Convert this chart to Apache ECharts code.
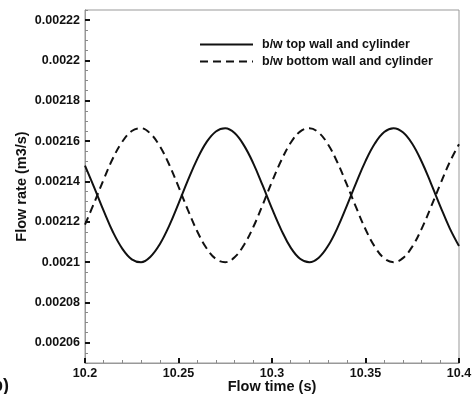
<!DOCTYPE html>
<html>
<head>
<meta charset="utf-8">
<script src="https://cdn.jsdelivr.net/npm/echarts@6/dist/echarts.min.js"></script>
<style>
  html, body { margin: 0; padding: 0; background: #fff; }
  #chart { width: 473px; height: 394px; }
</style>
</head>
<body>
<div id="chart"></div>
<script>
// Flow time samples (s)
const flowTime = [
  10.200, 10.205, 10.210, 10.215, 10.220, 10.225, 10.230, 10.235, 10.240, 10.245,
  10.250, 10.255, 10.260, 10.265, 10.270, 10.275, 10.280, 10.285, 10.290, 10.295,
  10.300, 10.305, 10.310, 10.315, 10.320, 10.325, 10.330, 10.335, 10.340, 10.345,
  10.350, 10.355, 10.360, 10.365, 10.370, 10.375, 10.380, 10.385, 10.390, 10.395,
  10.400
];

// Flow rate between top wall and cylinder (m3/s)
const topWall = [
  0.0021478, 0.0021368, 0.0021254, 0.0021148, 0.0021066, 0.0021014, 0.0021000, 0.0021027, 0.0021089, 0.0021180,
  0.0021290, 0.0021405, 0.0021511, 0.0021595, 0.0021648, 0.0021664, 0.0021640, 0.0021579, 0.0021490, 0.0021380,
  0.0021265, 0.0021159, 0.0021072, 0.0021017, 0.0021000, 0.0021022, 0.0021081, 0.0021170, 0.0021279, 0.0021393,
  0.0021501, 0.0021588, 0.0021645, 0.0021664, 0.0021644, 0.0021587, 0.0021499, 0.0021391, 0.0021277, 0.0021169,
  0.0021080
];

// Flow rate between bottom wall and cylinder (m3/s)
const bottomWall = [
  0.0021186, 0.0021296, 0.0021410, 0.0021516, 0.0021598, 0.0021650, 0.0021664, 0.0021637, 0.0021575, 0.0021484,
  0.0021374, 0.0021259, 0.0021153, 0.0021069, 0.0021016, 0.0021000, 0.0021024, 0.0021085, 0.0021174, 0.0021284,
  0.0021399, 0.0021505, 0.0021592, 0.0021647, 0.0021664, 0.0021642, 0.0021583, 0.0021494, 0.0021385, 0.0021271,
  0.0021163, 0.0021076, 0.0021019, 0.0021000, 0.0021020, 0.0021077, 0.0021165, 0.0021273, 0.0021387, 0.0021495,
  0.0021584
];

// Labelled ticks on the flow-rate axis
const rateTicks = [0.00206, 0.00208, 0.0021, 0.00212, 0.00214, 0.00216, 0.00218, 0.0022, 0.00222];
const rateLabels = ['0.00206', '0.00208', '0.0021', '0.00212', '0.00214', '0.00216', '0.00218', '0.0022', '0.00222'];

const seriesNames = ['b/w top wall and cylinder', 'b/w bottom wall and cylinder'];

const FONT = 'Liberation Sans, Arial, sans-serif';

function pairs(xs, ys) {
  return xs.map((x, i) => [x, ys[i]]);
}

const chart = echarts.init(document.getElementById('chart'), null, { renderer: 'canvas' });

const yCommon = {
  type: 'value',
  position: 'left',
  min: 0.00205,
  max: 0.002225,
  scale: true,
  splitLine: { show: false },
  axisLine: { show: true, lineStyle: { color: '#999', width: 1 } }
};

chart.setOption({
  animation: false,
  backgroundColor: '#fff',
  grid: {
    left: 85, top: 10, right: 14, bottom: 31,
    outerBoundsMode: 'none',
    containLabel: false,
    show: true, borderColor: '#999', borderWidth: 1, backgroundColor: 'transparent'
  },
  legend: {
    orient: 'vertical',
    left: 199,
    top: 38,
    padding: 0,
    itemWidth: 53,
    itemHeight: 10,
    itemGap: 4,
    data: seriesNames,
    itemStyle: { opacity: 0 },
    textStyle: {
      fontFamily: FONT, fontWeight: 'bold', fontSize: 12.5, color: '#111',
      padding: [0, 0, 0, 4]
    }
  },
  xAxis: {
    type: 'value',
    min: 10.2,
    max: 10.4,
    interval: 0.05,
    name: 'Flow time (s)',
    nameLocation: 'middle',
    nameGap: 16,
    nameMoveOverlap: false,
    nameTextStyle: { fontFamily: FONT, fontWeight: 'bold', fontSize: 14.5, color: '#111' },
    axisLine: { show: true, lineStyle: { color: '#999', width: 1 } },
    axisTick: { show: true, inside: true, length: 5, lineStyle: { color: '#111', width: 2 } },
    minorTick: { show: true, splitNumber: 5, length: 3, lineStyle: { color: '#888', width: 1 } },
    splitLine: { show: false },
    axisLabel: {
      margin: 4,
      fontFamily: FONT, fontWeight: 'bold', fontSize: 12.5, color: '#111',
      formatter: v => String(Math.round(v * 100) / 100)
    }
  },
  yAxis: [
    Object.assign({}, yCommon, {
      // fine ticks every 0.000005
      interval: 0.000005,
      name: 'Flow rate (m3/s)',
      nameLocation: 'middle',
      nameGap: 56,
      nameMoveOverlap: false,
      nameTextStyle: { fontFamily: FONT, fontWeight: 'bold', fontSize: 14.5, color: '#111' },
      axisTick: { show: true, inside: true, length: 3, lineStyle: { color: '#888', width: 1 } },
      axisLabel: { show: false }
    }),
    Object.assign({}, yCommon, {
      // labelled ticks every 0.00002
      axisTick: {
        show: true, inside: true, length: 5,
        lineStyle: { color: '#111', width: 2 },
        customValues: rateTicks
      },
      axisLabel: {
        show: true, margin: 5,
        fontFamily: FONT, fontWeight: 'bold', fontSize: 12.5, color: '#111',
        customValues: rateTicks,
        formatter: v => {
          const i = rateTicks.findIndex(t => Math.abs(t - v) < 1e-9);
          return i >= 0 ? rateLabels[i] : '';
        }
      }
    })
  ],
  graphic: [
    {
      type: 'text',
      left: -8,
      top: 377,
      style: { text: 'b)', font: 'bold 18px ' + FONT, fill: '#111' }
    }
  ],
  series: [
    {
      name: seriesNames[0],
      type: 'line',
      yAxisIndex: 0,
      data: pairs(flowTime, topWall),
      smooth: 0.4,
      showSymbol: false,
      symbol: 'none',
      lineStyle: { color: '#111', width: 2, type: 'solid' },
      itemStyle: { color: '#111' }
    },
    {
      name: seriesNames[1],
      type: 'line',
      yAxisIndex: 0,
      data: pairs(flowTime, bottomWall),
      smooth: 0.4,
      showSymbol: false,
      symbol: 'none',
      lineStyle: { color: '#111', width: 2, type: [8, 5] },
      itemStyle: { color: '#111' }
    }
  ]
});
</script>
</body>
</html>
